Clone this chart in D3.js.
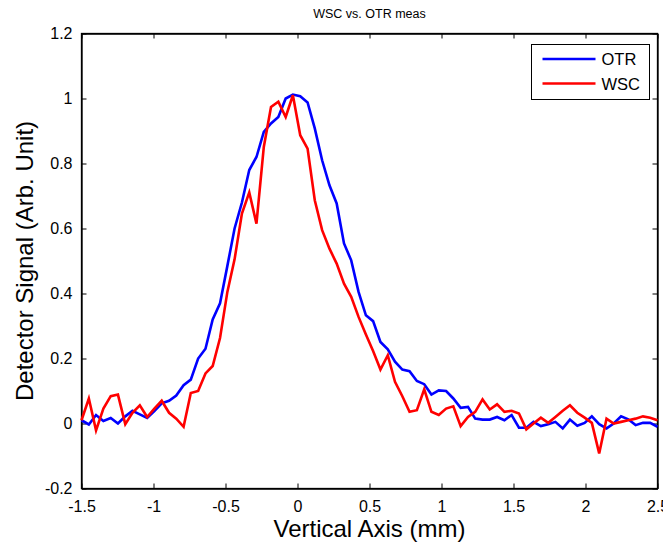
<!DOCTYPE html>
<html>
<head>
<meta charset="utf-8">
<script src="https://cdn.jsdelivr.net/npm/d3@7"></script>
<style>
  body { margin: 0; background: #fff; }
  text { font-family: "Liberation Sans", Arial, Helvetica, sans-serif; fill: #000; }
</style>
</head>
<body>
<div id="chart"></div>
<script>
// sample positions (mm)
const positions = [
  -1.500, -1.449, -1.399, -1.348, -1.297, -1.247, -1.196, -1.146, -1.095, -1.044,
  -0.994, -0.943, -0.892, -0.842, -0.791, -0.741, -0.690, -0.639, -0.589, -0.538,
  -0.487, -0.437, -0.386, -0.335, -0.285, -0.234, -0.184, -0.133, -0.082, -0.032,
   0.019,  0.070,  0.120,  0.171,  0.222,  0.272,  0.323,  0.373,  0.424,  0.475,
   0.525,  0.576,  0.627,  0.677,  0.728,  0.778,  0.829,  0.880,  0.930,  0.981,
   1.032,  1.082,  1.133,  1.184,  1.234,  1.285,  1.335,  1.386,  1.437,  1.487,
   1.538,  1.589,  1.639,  1.690,  1.741,  1.791,  1.842,  1.892,  1.943,  1.994,
   2.044,  2.095,  2.146,  2.196,  2.247,  2.297,  2.348,  2.399,  2.449,  2.500
];

const otr = [
  0.010, -0.003, 0.026, 0.008, 0.017, 0.000, 0.022, 0.039, 0.028, 0.017,
  0.038, 0.062, 0.070, 0.086, 0.118, 0.135, 0.200, 0.230, 0.320, 0.370,
  0.485, 0.600, 0.680, 0.780, 0.820, 0.897, 0.923, 0.943, 1.000, 1.012,
  1.007, 0.988, 0.908, 0.810, 0.733, 0.677, 0.554, 0.502, 0.405, 0.333,
  0.315, 0.251, 0.228, 0.190, 0.166, 0.161, 0.131, 0.121, 0.089, 0.102,
  0.100, 0.077, 0.048, 0.051, 0.015, 0.012, 0.012, 0.020, 0.010, 0.026,
  -0.013, -0.013, 0.005, -0.008, -0.002, 0.005, -0.015, 0.012, -0.007, 0.002,
  0.022, -0.002, -0.015, 0.000, 0.022, 0.013, -0.005, 0.002, 0.002, -0.010
];

const wsc = [
  0.010, 0.077, -0.021, 0.046, 0.084, 0.089, -0.002, 0.033, 0.056, 0.020,
  0.046, 0.070, 0.033, 0.015, -0.010, 0.094, 0.100, 0.154, 0.177, 0.263,
  0.405, 0.505, 0.646, 0.711, 0.615, 0.851, 0.974, 0.990, 0.943, 1.010,
  0.887, 0.846, 0.687, 0.595, 0.538, 0.492, 0.430, 0.390, 0.328, 0.274,
  0.223, 0.166, 0.210, 0.128, 0.084, 0.036, 0.041, 0.105, 0.036, 0.026,
  0.046, 0.053, -0.008, 0.020, 0.036, 0.074, 0.043, 0.059, 0.036, 0.039,
  0.031, -0.018, 0.000, 0.018, 0.002, 0.020, 0.039, 0.056, 0.033, 0.018,
  0.002, -0.092, 0.015, 0.000, 0.005, 0.010, 0.015, 0.022, 0.018, 0.010
];

const xTicks = [-1.5, -1, -0.5, 0, 0.5, 1, 1.5, 2, 2.5];
const yTicks = [-0.2, 0, 0.2, 0.4, 0.6, 0.8, 1, 1.2];

const series = [
  { name: 'OTR', values: otr, color: '#0000ff' },
  { name: 'WSC', values: wsc, color: '#ff0000' }
];

// dimensions and margins
const margin = { top: 33.5, right: 5.5, bottom: 56.5, left: 81.5 };
const width = 663 - margin.left - margin.right;
const height = 545 - margin.top - margin.bottom;

const svg = d3.select('#chart').append('svg')
  .attr('width', 663)
  .attr('height', 545);

const chart = svg.append('g')
  .attr('transform', `translate(${margin.left}, ${margin.top})`);

const x = d3.scaleLinear().domain([-1.5, 2.5]).range([0, width]);
const y = d3.scaleLinear().domain([-0.2, 1.2]).range([height, 0]);

const tickFmt = d => String(d);

// bottom / left axes with inward ticks
const xAxis = chart.append('g')
  .attr('transform', `translate(0, ${height})`)
  .call(d3.axisBottom(x).tickValues(xTicks).tickFormat(tickFmt).tickSizeInner(-5).tickSizeOuter(0).tickPadding(12));

const yAxis = chart.append('g')
  .call(d3.axisLeft(y).tickValues(yTicks).tickFormat(tickFmt).tickSizeInner(-5).tickSizeOuter(0).tickPadding(9));

// top / right axes, ticks only
chart.append('g')
  .call(d3.axisTop(x).tickValues(xTicks).tickFormat('').tickSizeInner(-5).tickSizeOuter(0));
chart.append('g')
  .attr('transform', `translate(${width}, 0)`)
  .call(d3.axisRight(y).tickValues(yTicks).tickFormat('').tickSizeInner(-5).tickSizeOuter(0));

chart.selectAll('.domain').attr('stroke', '#000').attr('stroke-width', 1.3);
chart.selectAll('.tick line').attr('stroke', '#000').attr('stroke-width', 1);
chart.selectAll('.tick text')
  .style('font-family', '"Liberation Sans", Arial, sans-serif')
  .style('font-size', '16px')
  .attr('fill', '#000');

// box around the plot
chart.append('rect')
  .attr('width', width)
  .attr('height', height)
  .attr('fill', 'none')
  .attr('stroke', '#000')
  .attr('stroke-width', 1.3);

// curves
const line = d3.line()
  .x((d, i) => x(positions[i]))
  .y(d => y(d));

chart.selectAll('path.series')
  .data(series)
  .enter().append('path')
  .attr('class', 'series')
  .attr('d', d => line(d.values))
  .attr('fill', 'none')
  .attr('stroke', d => d.color)
  .attr('stroke-width', 2.6)
  .attr('stroke-linejoin', 'miter');

// title and axis labels
svg.append('text')
  .attr('x', margin.left + width / 2)
  .attr('y', 18)
  .attr('text-anchor', 'middle')
  .style('font-size', '12.5px')
  .text('WSC vs. OTR meas');

svg.append('text')
  .attr('x', margin.left + width / 2)
  .attr('y', 537)
  .attr('text-anchor', 'middle')
  .style('font-size', '24px')
  .text('Vertical Axis (mm)');

svg.append('text')
  .attr('transform', `translate(33, ${margin.top + height / 2}) rotate(-90)`)
  .attr('text-anchor', 'middle')
  .style('font-size', '24px')
  .text('Detector Signal (Arb. Unit)');

// legend
const legend = svg.append('g')
  .attr('transform', 'translate(531.5, 44.5)');

legend.append('rect')
  .attr('width', 118)
  .attr('height', 55)
  .attr('fill', '#fff')
  .attr('stroke', '#000')
  .attr('stroke-width', 1);

const item = legend.selectAll('g.item')
  .data(series)
  .enter().append('g')
  .attr('class', 'item')
  .attr('transform', (d, i) => `translate(0, ${14.5 + i * 24.5})`);

item.append('line')
  .attr('x1', 11)
  .attr('x2', 64)
  .attr('stroke', d => d.color)
  .attr('stroke-width', 2.6);

item.append('text')
  .attr('x', 70)
  .attr('y', 6)
  .style('font-size', '16.5px')
  .text(d => d.name);
</script>
</body>
</html>
